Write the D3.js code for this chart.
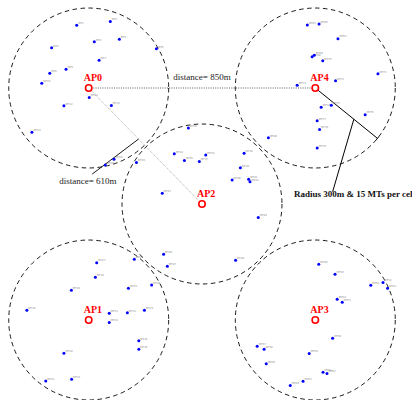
<!DOCTYPE html>
<html lang="en">
<head>
    <meta charset="UTF-8">
    <title>AP / MT layout</title>
    <script src="https://cdnjs.cloudflare.com/ajax/libs/d3/7.8.5/d3.min.js"></script>
    <style>
        body { margin: 0; background: #fff; }
        svg { display: block; }
    </style>
</head>
<body>
<svg id="chart" width="412" height="400"></svg>

<script>
    // positions in metres, AP2 at the origin
    const apNames = ["AP0", "AP1", "AP2", "AP3", "AP4"];
    const apX = [-425, -425, 0, 425, 425];
    const apY = [435, -435, 0, -435, 435];
    const cellRadius = 300;

    // mobile terminals, grouped by cell
    const mtAP0 = [[-470, 670], [-344, 684], [-564, 586], [-404, 608], [-310, 618], [-171, 582],
        [-386, 539], [-571, 490], [-510, 505], [-601, 453], [-423, 399], [-518, 368],
        [-340, 369], [-638, 269], [-330, 168], [-363, 146]];
    const mtAP1 = [[-395, -220], [-400, -275], [-490, -323], [-657, -398], [-348, -410], [-280, -408],
        [-216, -398], [-348, -444], [-276, -316], [-189, -304], [-254, -207], [-237, -513],
        [-237, -545], [-518, -560], [-586, -664], [-489, -657]];
    const mtAP2 = [[-51, 285], [-104, 188], [-66, 163], [14, 184], [-10, 159], [158, 190],
        [144, 136], [113, 90], [175, 93], [180, 83], [-149, 40], [211, -51],
        [-246, 156], [-144, -188], [-130, -233], [126, -211]];
    const mtAP3 = [[438, -226], [499, -263], [633, -305], [679, -294], [696, -316], [507, -357],
        [526, -368], [490, -503], [207, -533], [233, -545], [402, -561], [241, -599],
        [454, -631], [469, -636], [379, -665], [331, -681]];
    const mtAP4 = [[395, 671], [439, 675], [510, 620], [413, 552], [421, 558], [453, 537],
        [660, 488], [501, 462], [357, 445], [447, 363], [485, 370], [612, 335],
        [432, 312], [441, 279], [432, 210], [249, 248]];

    const distLabels = ["distance= 850m", "distance= 610m"];
    const radiusLabel = "Radius 300m & 15 MTs per cell";

    const svg = d3.select("#chart");
    const x = d3.scaleLinear().domain([-425, 425]).range([88.7, 315.3]);
    const y = d3.scaleLinear().domain([435, -435]).range([88, 320]);
    const rPx = x(cellRadius) - x(0);

    const aps = apNames.map((n, i) => ({name: n, x: apX[i], y: apY[i]}));
    const ap = n => aps[apNames.indexOf(n)];

    // cell boundaries
    svg.append("g").selectAll("circle")
        .data(aps)
        .enter().append("circle")
        .attr("cx", d => x(d.x))
        .attr("cy", d => y(d.y))
        .attr("r", rPx)
        .attr("fill", "none")
        .attr("stroke", "#000")
        .attr("stroke-width", 0.9)
        .attr("stroke-dasharray", "4.5,3.5");

    // distance lines
    const a0 = ap("AP0"), a4 = ap("AP4"), a2 = ap("AP2");
    svg.append("line")
        .attr("x1", x(a0.x)).attr("y1", y(a0.y))
        .attr("x2", x(a4.x)).attr("y2", y(a4.y))
        .attr("stroke", "#333").attr("stroke-width", 0.8)
        .attr("stroke-dasharray", "1,1.3");
    svg.append("line")
        .attr("x1", x(a0.x)).attr("y1", y(a0.y))
        .attr("x2", x(a2.x)).attr("y2", y(a2.y))
        .attr("stroke", "#777").attr("stroke-width", 0.6)
        .attr("stroke-dasharray", "1,1");

    svg.append("text")
        .attr("x", (x(a0.x) + x(a4.x)) / 2)
        .attr("y", y(a0.y) - 8)
        .attr("text-anchor", "middle")
        .attr("font-family", "Liberation Serif, Times New Roman, serif")
        .attr("font-size", 9)
        .attr("fill", "#222")
        .text(distLabels[0]);

    // pointer for 610m
    const t = 0.44;
    const px610 = x(a0.x + (a2.x - a0.x) * t), py610 = y(a0.y + (a2.y - a0.y) * t);
    svg.append("line")
        .attr("x1", x(-412)).attr("y1", y(112))
        .attr("x2", px610).attr("y2", py610)
        .attr("stroke", "#000").attr("stroke-width", 0.9);
    svg.append("text")
        .attr("x", x(-428)).attr("y", y(75))
        .attr("text-anchor", "middle")
        .attr("font-family", "Liberation Serif, Times New Roman, serif")
        .attr("font-size", 9)
        .attr("fill", "#222")
        .text(distLabels[1]);

    // radius line from AP4
    const ang = -39 * Math.PI / 180;
    const ex = a4.x + cellRadius * Math.cos(ang), ey = a4.y + cellRadius * Math.sin(ang);
    svg.append("line")
        .attr("x1", x(a4.x)).attr("y1", y(a4.y))
        .attr("x2", x(ex)).attr("y2", y(ey))
        .attr("stroke", "#000").attr("stroke-width", 1);
    const tk = 8;
    svg.append("line")
        .attr("x1", x(ex - tk * Math.sin(ang))).attr("y1", y(ey + tk * Math.cos(ang)))
        .attr("x2", x(ex + tk * Math.sin(ang))).attr("y2", y(ey - tk * Math.cos(ang)))
        .attr("stroke", "#000").attr("stroke-width", 1);
    const tr = 0.62;
    svg.append("line")
        .attr("x1", x(a4.x + (ex - a4.x) * tr)).attr("y1", y(a4.y + (ey - a4.y) * tr))
        .attr("x2", x(490)).attr("y2", y(46))
        .attr("stroke", "#000").attr("stroke-width", 1);
    svg.append("text")
        .attr("x", x(345)).attr("y", y(26))
        .attr("font-family", "Liberation Serif, Times New Roman, serif")
        .attr("font-size", 9)
        .attr("font-weight", "bold")
        .attr("fill", "#111")
        .text(radiusLabel);

    // mobile terminals
    const mts = [mtAP0, mtAP1, mtAP2, mtAP3, mtAP4]
        .flatMap((arr, c) => arr.map((p, i) => ({x: p[0], y: p[1], id: c * 16 + i + 1})));

    const mtG = svg.append("g");
    mtG.selectAll("text")
        .data(mts)
        .enter().append("text")
        .attr("x", d => x(d.x) + 1.5)
        .attr("y", d => y(d.y) - 1.2)
        .attr("font-family", "DejaVu Sans, sans-serif")
        .attr("font-size", 2.6)
        .attr("fill", "#888")
        .text(d => "MT" + d.id);
    mtG.selectAll("circle")
        .data(mts)
        .enter().append("circle")
        .attr("cx", d => x(d.x))
        .attr("cy", d => y(d.y))
        .attr("r", 1.5)
        .attr("fill", "#0000ff");

    // access points
    const apG = svg.append("g");
    apG.selectAll("circle")
        .data(aps)
        .enter().append("circle")
        .attr("cx", d => x(d.x))
        .attr("cy", d => y(d.y))
        .attr("r", 3.2)
        .attr("fill", "#fff")
        .attr("stroke", "#ff0000")
        .attr("stroke-width", 1.6);
    apG.selectAll("text")
        .data(aps)
        .enter().append("text")
        .attr("x", d => x(d.x) - 5)
        .attr("y", d => y(d.y) - 7)
        .attr("font-family", "Liberation Serif, Times New Roman, serif")
        .attr("font-size", 10)
        .attr("font-weight", "bold")
        .attr("fill", "#ff0000")
        .text(d => d.name);
</script>
</body>
</html>
